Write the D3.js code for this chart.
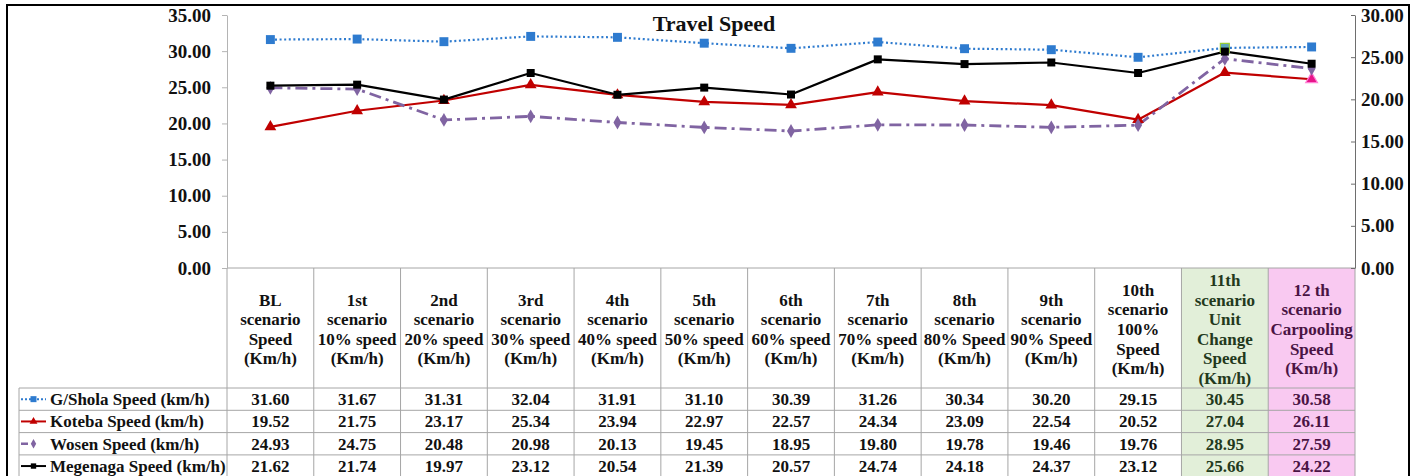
<!DOCTYPE html>
<html>
<head>
<meta charset="utf-8">
<script src="https://cdn.jsdelivr.net/npm/d3@7"></script>
<style>
  html, body { margin: 0; padding: 0; background: #fff; }
  svg { display: block; font-family: "Liberation Serif", "Times New Roman", serif; font-weight: bold; }
</style>
</head>
<body>
<svg id="chart" width="1421" height="476"></svg>
<script>
// Scenario column headers (multi-line)
const categories = [
  ["BL", "scenario", "Speed", "(Km/h)"],
  ["1st", "scenario", "10% speed", "(Km/h)"],
  ["2nd", "scenario", "20% speed", "(Km/h)"],
  ["3rd", "scenario", "30% speed", "(Km/h)"],
  ["4th", "scenario", "40% speed", "(Km/h)"],
  ["5th", "scenario", "50% speed", "(Km/h)"],
  ["6th", "scenario", "60% speed", "(Km/h)"],
  ["7th", "scenario", "70% speed", "(Km/h)"],
  ["8th", "scenario", "80% Speed", "(Km/h)"],
  ["9th", "scenario", "90% Speed", "(Km/h)"],
  ["10th", "scenario", "100%", "Speed", "(Km/h)"],
  ["11th", "scenario", "Unit", "Change", "Speed", "(Km/h)"],
  ["12 th", "scenario", "Carpooling", "Speed", "(Km/h)"]
];

// Travel speed per corridor (km/h)
const gShola   = [31.60, 31.67, 31.31, 32.04, 31.91, 31.10, 30.39, 31.26, 30.34, 30.20, 29.15, 30.45, 30.58];
const koteba   = [19.52, 21.75, 23.17, 25.34, 23.94, 22.97, 22.57, 24.34, 23.09, 22.54, 20.52, 27.04, 26.11];
const wosen    = [24.93, 24.75, 20.48, 20.98, 20.13, 19.45, 18.95, 19.80, 19.78, 19.46, 19.76, 28.95, 27.59];
const megenaga = [21.62, 21.74, 19.97, 23.12, 20.54, 21.39, 20.57, 24.74, 24.18, 24.37, 23.12, 25.66, 24.22];

const leftTicks  = [0, 5, 10, 15, 20, 25, 30, 35];
const rightTicks = [0, 5, 10, 15, 20, 25, 30];

const seriesList = [
  { name: "G/Shola Speed (km/h)",  values: gShola,   axis: "left",  color: "#2e7bcf", dash: "2,2.6",     width: 2.2, marker: "square",   size: 80 },
  { name: "Koteba Speed (km/h)",   values: koteba,   axis: "left",  color: "#c00000", dash: null,        width: 2.2, marker: "triangle", size: 60 },
  { name: "Wosen Speed (km/h)",    values: wosen,    axis: "left",  color: "#8064a2", dash: "12,5,3,5",  width: 2.8, marker: "diamond",  size: 55 },
  { name: "Megenaga Speed (km/h)", values: megenaga, axis: "right", color: "#000000", dash: null,        width: 2.2, marker: "square",   size: 64 }
];

const FONT = "'Liberation Serif', 'Times New Roman', serif";
const svg = d3.select("#chart");
const plotLeft = 227, plotRight = 1355, plotTop = 15, plotBottom = 268;
const headerBottom = 388, rowH = 22.3, tableBottom = 476;
const legendLeft = 19;

const x = d3.scaleBand().domain(d3.range(categories.length)).range([plotLeft, plotRight]).padding(0);
const yLeft  = d3.scaleLinear().domain([0, 35]).range([plotBottom, plotTop]);
const yRight = d3.scaleLinear().domain([0, 30]).range([plotBottom, plotTop]);

const greenCol = 11, pinkCol = 12;
const colBg = i => i === greenCol ? "#e2efd9" : i === pinkCol ? "#f9c9f1" : null;
const colText = i => i === greenCol ? "#23391c" : i === pinkCol ? "#4a1444" : "#111";

// Outer frame
svg.append("rect").attr("x", 7).attr("y", 5).attr("width", 1402).attr("height", 480)
  .attr("fill", "#fff").attr("stroke", "#000").attr("stroke-width", 2);

// Highlighted column backgrounds
svg.append("g").selectAll("rect")
  .data(d3.range(categories.length).filter(i => colBg(i)))
  .join("rect")
  .attr("x", i => x(i)).attr("y", plotBottom)
  .attr("width", x.bandwidth()).attr("height", tableBottom - plotBottom)
  .attr("fill", i => colBg(i));

// Table grid
const grid = svg.append("g").attr("stroke", "#a6a6a6").attr("stroke-width", 1);
d3.range(categories.length + 1).forEach(i => {
  const xx = i < categories.length ? x(i) : plotRight;
  grid.append("line").attr("x1", xx).attr("x2", xx).attr("y1", plotBottom).attr("y2", tableBottom);
});
grid.append("line").attr("x1", plotLeft).attr("x2", plotRight).attr("y1", plotBottom).attr("y2", plotBottom);
d3.range(seriesList.length + 1).forEach(r => {
  const yy = headerBottom + r * rowH;
  grid.append("line").attr("x1", legendLeft).attr("x2", plotRight).attr("y1", yy).attr("y2", yy);
});
grid.append("line").attr("x1", legendLeft).attr("x2", legendLeft).attr("y1", headerBottom).attr("y2", tableBottom);

// Column headers
const lineGap = 19.6;
const headers = svg.append("g").attr("font-size", 17).attr("font-family", FONT).attr("text-anchor", "middle");
categories.forEach((lines, i) => {
  const cx = x(i) + x.bandwidth() / 2;
  const center = (plotBottom + headerBottom) / 2 + 1;
  const start = center - (lines.length - 1) * lineGap / 2;
  lines.forEach((t, k) => {
    headers.append("text").attr("x", cx).attr("y", start + k * lineGap)
      .attr("dy", "0.35em").attr("fill", colText(i)).text(t);
  });
});

// Data rows
const cells = svg.append("g").attr("font-size", 17).attr("font-family", FONT).attr("text-anchor", "middle");
seriesList.forEach((s, r) => {
  const cy = headerBottom + r * rowH + rowH / 2;
  s.values.forEach((v, i) => {
    cells.append("text").attr("x", x(i) + x.bandwidth() / 2).attr("y", cy)
      .attr("dy", "0.35em").attr("fill", colText(i)).text(v.toFixed(2));
  });
});

// Marker shapes
const symbolType = { square: d3.symbolSquare, triangle: d3.symbolTriangle, diamond: d3.symbolDiamond };

// Legend keys inside the table
const legend = svg.append("g").attr("font-size", 17).attr("font-family", FONT);
seriesList.forEach((s, r) => {
  const cy = headerBottom + r * rowH + rowH / 2;
  legend.append("line").attr("x1", 21).attr("x2", 46).attr("y1", cy).attr("y2", cy)
    .attr("stroke", s.color).attr("stroke-width", s.width * 0.9)
    .attr("stroke-dasharray", s.dash ? (s.marker === "diamond" ? "7,20" : "2,2") : null);
  legend.append("path").attr("transform", `translate(33.5,${cy})`)
    .attr("d", d3.symbol(symbolType[s.marker], s.size * 0.45)())
    .attr("fill", s.color);
  legend.append("text").attr("x", 50).attr("y", cy).attr("dy", "0.35em").attr("fill", "#111").text(s.name);
});

// Axes
const leftAxis = svg.append("g").attr("transform", `translate(${plotLeft},0)`)
  .call(d3.axisLeft(yLeft).tickValues(leftTicks).tickFormat(d3.format(".2f")).tickSizeInner(5).tickSizeOuter(0).tickPadding(11));
leftAxis.attr("font-family", FONT).attr("font-size", 19).attr("font-weight", "bold");
leftAxis.select(".domain").attr("stroke", "#b4b4b4");
leftAxis.selectAll(".tick line").attr("stroke", "#b4b4b4");
leftAxis.selectAll("text").attr("fill", "#111");

const rightAxis = svg.append("g").attr("transform", `translate(${plotRight},0)`)
  .call(d3.axisRight(yRight).tickValues(rightTicks).tickFormat(d3.format(".2f")).tickSizeInner(-4).tickSizeOuter(0).tickPadding(6));
rightAxis.attr("font-family", FONT).attr("font-size", 19).attr("font-weight", "bold");
rightAxis.select(".domain").attr("stroke", "#6e6e6e");
rightAxis.selectAll(".tick line").attr("stroke", "#6e6e6e");
rightAxis.selectAll("text").attr("fill", "#111");

// Series lines and markers
const plot = svg.append("g");
seriesList.forEach(s => {
  const yScale = s.axis === "left" ? yLeft : yRight;
  const line = d3.line().x((d, i) => x(i) + x.bandwidth() / 2).y(d => yScale(d));
  plot.append("path").datum(s.values).attr("d", line)
    .attr("fill", "none").attr("stroke", s.color).attr("stroke-width", s.width)
    .attr("stroke-dasharray", s.dash).attr("stroke-linejoin", "round");
});
seriesList.forEach(s => {
  const yScale = s.axis === "left" ? yLeft : yRight;
  plot.append("g").selectAll("path").data(s.values).join("path")
    .attr("transform", (d, i) => `translate(${x(i) + x.bandwidth() / 2},${yScale(d)})`)
    .attr("d", d3.symbol(symbolType[s.marker], s.size)())
    .attr("fill", (d, i) => {
      if (s.name.startsWith("G/Shola") && i === greenCol) return "#5fa6b8";
      if (s.name.startsWith("Koteba") && i === pinkCol) return "#e8158a";
      return s.color;
    })
    .attr("stroke", (d, i) => {
      if (s.name.startsWith("G/Shola") && i === greenCol) return "#9acd32";
      if (s.name.startsWith("Koteba") && i === pinkCol) return "#ff7fd4";
      return "none";
    })
    .attr("stroke-width", 1.2);
});

// Title
svg.append("text").attr("x", 714).attr("y", 31).attr("text-anchor", "middle")
  .attr("font-family", FONT).attr("font-size", 22).attr("fill", "#111").text("Travel Speed");
</script>
</body>
</html>
